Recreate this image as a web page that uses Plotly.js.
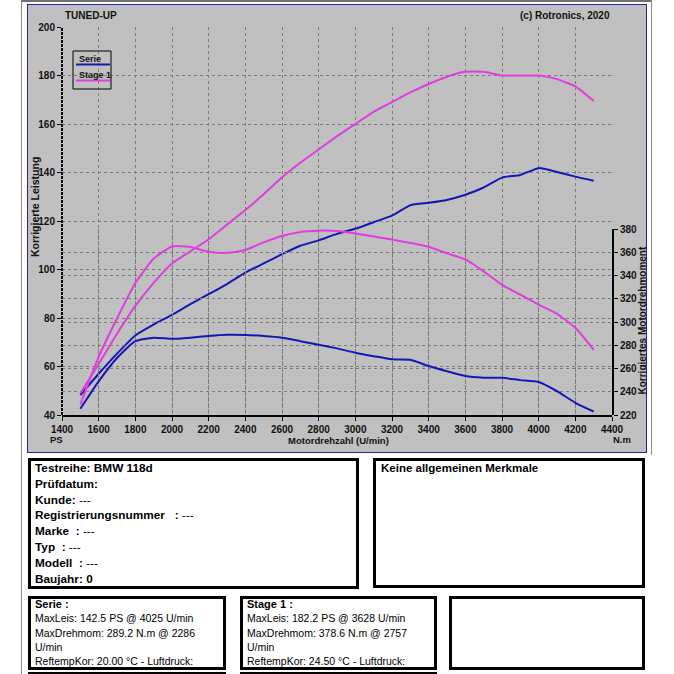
<!DOCTYPE html>
<html><head><meta charset="utf-8">
<script src="https://cdn.plot.ly/plotly-3.0.1.min.js"></script>
<style>
html,body{margin:0;padding:0;background:#fff;width:674px;height:674px;overflow:hidden;font-family:"Liberation Sans",Arial,sans-serif;}
.abs{position:absolute;box-sizing:border-box;}
.box{position:absolute;box-sizing:border-box;border:3px solid #000;background:#fff;color:#000;}
.big{font-weight:bold;font-size:11.8px;line-height:15.8px;padding-left:4px;}
.small{font-size:10.5px;line-height:14.3px;padding-left:4px;}
.small .in{position:relative;top:-2px;}
.n{font-weight:normal;}
</style></head><body>
<div class="abs" style="left:21px;top:0;width:631px;height:2px;background:#6e6e6e"></div>
<div class="abs" style="left:21px;top:0;width:1px;height:674px;background:#8a8a8a"></div>
<div class="abs" style="left:651px;top:0;width:1px;height:455px;background:#8a8a8a"></div>
<div class="abs" style="left:27px;top:4px;width:620px;height:449px;border:1px solid #24249c;"></div>
<div id="chart" class="abs" style="left:28px;top:5px;width:618px;height:447px;"></div>

<div class="box big" style="left:28px;top:458px;width:331px;height:131px;">Testreihe: BMW 118d<br>Prüfdatum:<br>Kunde: <span class="n">---</span><br>Registrierungsnummer&nbsp;&nbsp; : <span class="n">---</span><br>Marke&nbsp; : <span class="n">---</span><br>Typ&nbsp; : <span class="n">---</span><br>Modell&nbsp; : <span class="n">---</span><br>Baujahr: 0</div>
<div class="box" style="left:373px;top:458px;width:272px;height:130px;padding-left:5px;font-weight:bold;font-size:11.5px;line-height:15px;">Keine allgemeinen Merkmale</div>

<div class="box small" style="left:28px;top:596px;width:198px;height:74px;"><div class="in"><b style="font-size:11px">Serie :</b><br>MaxLeis: 142.5 PS @ 4025 U/min<br>MaxDrehmom: 289.2 N.m @ 2286<br>U/min<br>ReftempKor: 20.00 °C - Luftdruck:</div></div>
<div class="box small" style="left:240px;top:596px;width:197px;height:74px;"><div class="in"><b style="font-size:11px">Stage 1 :</b><br>MaxLeis: 182.2 PS @ 3628 U/min<br>MaxDrehmom: 378.6 N.m @ 2757<br>U/min<br>ReftempKor: 24.50 °C - Luftdruck:</div></div>
<div class="box" style="left:449px;top:596px;width:196px;height:74px;"></div>
<div class="abs" style="left:28px;top:672px;width:198px;height:3px;background:#000"></div>
<div class="abs" style="left:240px;top:672px;width:197px;height:3px;background:#000"></div>

<script>
// ---- data ----
var rpm = [1500,1600,1700,1800,1900,2000,2100,2200,2300,2400,2500,2600,2700,2800,2900,3000,3100,3200,3300,3400,3500,3600,3700,3800,3900,4000,4100,4200,4300];
var seriePower = [48.2,57,65.3,72.8,77.3,81.3,85.7,89.8,94,98.7,102.5,106.3,109.8,112,114.7,116.8,119.5,122.2,126.5,127.5,128.7,130.8,133.8,137.9,139,141.8,140.2,138.3,136.6];
var stagePower = [49,61,73.5,85,94.5,102.5,107.5,112.5,118.5,124.5,131,138,144,149.5,155,160,165,169,173,176.5,179.5,181.5,181.5,180,180,180,178.5,175.5,169.5];
var serieTorque = [225.4,249,269,283.5,286.5,285.5,286.5,288,289,288.8,288,286.5,283.5,280.5,277.3,273.6,270.6,267.9,267.6,262.1,257.6,253.5,252.1,252,250,248.4,240.5,230.5,223];
var stageTorque = [229,270,303,333.5,354.5,365,364.5,360.5,359.5,362,368.5,374,377.5,378.6,378.3,376.2,373.5,371,368,364.7,359,353.8,343.5,332,323.5,315,307,295,276];
var seriesNames = ["Serie","Stage 1"];
var xTitle = "Motordrehzahl (U/min)";
var yTitle = "Korrigierte Leistung";
var y2Title = "Korrigiertes Motordrehmoment";

// ---- styling ----
var BLUE = "#1616b6", MAG = "#e03ce0";
var FONT = "Liberation Sans, Arial, sans-serif";
function px(X){return (X-62)/550;}
function py(Y){return (415-Y)/388;}
function ann(text,X,Y,xa,size,extra){
  var a={text:text,x:px(X),y:py(Y),xref:"paper",yref:"paper",showarrow:false,xanchor:xa,yanchor:"middle",
    font:{family:FONT,size:size,color:"#111",weight:700}};
  for(var k in extra) a[k]=extra[k];
  return a;
}
var line = function(c){return {color:c,width:2,shape:"spline",smoothing:0.5};};
var traces = [
  {x:rpm,y:serieTorque,yaxis:"y2",mode:"lines",line:line(BLUE),name:seriesNames[0]},
  {x:rpm,y:stageTorque,yaxis:"y2",mode:"lines",line:line(MAG),name:seriesNames[1]},
  {x:rpm,y:seriePower,mode:"lines",line:line(BLUE),name:seriesNames[0]},
  {x:rpm,y:stagePower,mode:"lines",line:line(MAG),name:seriesNames[1]}
];
var tickfont={family:FONT,size:10,color:"#111",weight:700};
var grid={showgrid:true,gridcolor:"#7c7c7c",gridwidth:1,griddash:"3px,3px",zeroline:false,
  ticks:"outside",ticklen:4,tickcolor:"#000",tickwidth:1,tickfont:tickfont,automargin:false,fixedrange:true};
var layout = {
  width:618,height:447,margin:{l:34,r:34,t:22,b:37},
  paper_bgcolor:"#c0c0c0",plot_bgcolor:"rgba(0,0,0,0)",showlegend:false,
  xaxis:Object.assign({},grid,{range:[1400,4400],dtick:200,tick0:1400,showline:true,linecolor:"#000",linewidth:2,anchor:"y"}),
  yaxis:Object.assign({},grid,{range:[40,200],dtick:20,tick0:40,showline:false,domain:[0,1]}),
  yaxis2:Object.assign({},grid,{range:[220,380],dtick:20,tick0:220,domain:[0,186/388],side:"right",anchor:"x",showline:true,linecolor:"#000",linewidth:2}),
  shapes:[
    {type:"line",xref:"paper",yref:"paper",x0:0,x1:0,y0:0,y1:1,line:{color:"#000",width:2,dash:"3px,1px"}},
    {type:"rect",xref:"paper",yref:"paper",x0:px(73),x1:px(111),y0:py(89),y1:py(51),line:{color:"#000",width:1}},
    {type:"line",xref:"paper",yref:"paper",x0:px(76),x1:px(110),y0:py(64.5),y1:py(64.5),line:{color:BLUE,width:2}},
    {type:"line",xref:"paper",yref:"paper",x0:px(76),x1:px(110),y0:py(80.5),y1:py(80.5),line:{color:MAG,width:2}}
  ],
  annotations:[
    ann("TUNED-UP",63,15,"left",10),
    ann("(c) Rotronics, 2020",612,15,"right",10),
    ann("PS",56,439,"center",9.5),
    ann("N.m",622,439,"center",9.5),
    ann(xTitle,338,440,"center",9.5),
    ann(yTitle,35,207,"center",10.5,{textangle:-90}),
    ann(y2Title,641.5,321,"center",10,{textangle:-90}),
    ann(seriesNames[0],77,59,"left",9),
    ann(seriesNames[1],77,75,"left",9)
  ]
};
Plotly.newPlot("chart",traces,layout,{staticPlot:true,displayModeBar:false});
</script>
</body></html>
